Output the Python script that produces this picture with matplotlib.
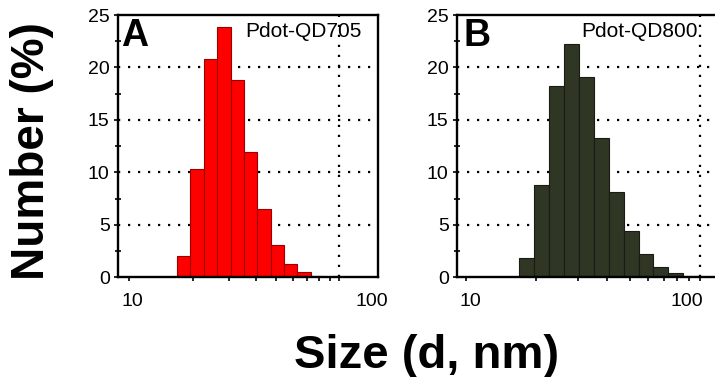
import numpy as np
import matplotlib
matplotlib.use("Agg")
import matplotlib.pyplot as plt
from matplotlib.ticker import FixedLocator, MultipleLocator, NullFormatter
from matplotlib.transforms import ScaledTranslation

plt.rcParams['font.family'] = ['Liberation Sans', 'DejaVu Sans']

# DLS size classes (nm) and number distributions (%)
sizes = [18.17, 21.04, 24.36, 28.21, 32.67, 37.84, 43.82, 50.75, 58.77, 68.06, 78.82, 91.28]
qd705 = [2.0, 10.3, 20.8, 23.9, 18.8, 11.9, 6.5, 3.1, 1.3, 0.55, 0.13, 0.0]
qd800 = [1.8, 8.8, 18.2, 22.2, 19.1, 13.3, 8.1, 4.4, 2.2, 0.95, 0.42, 0.15]
panel_letters = ['A', 'B']
sample_names = ['Pdot-QD705', 'Pdot-QD800']
bar_colors = ['#ff0000', '#2f3624']
edge_colors = ['#9a0000', '#181c12']
y_ticks = [0, 5, 10, 15, 20, 25]


def bin_edges(centers):
    c = np.log10(centers)
    half = np.diff(c).mean() / 2
    return 10 ** (c - half), 10 ** (c + half)


fig = plt.figure(figsize=(7.15, 3.77), dpi=100)

# axes placement (figure fraction) and x limits per panel
boxes = [[0.165, 0.2645, 0.3636, 0.6957], [0.6392, 0.2645, 0.3650, 0.6957]]
xlims = [(8.83, 152.9), (9.15, 119.4)]
label_shift = [(3, 33), (4, -13)]  # px offsets of the "10" / "100" labels
text_pos = [(0.012, 0.938), (0.023, 0.923)]

for i, vals in enumerate([qd705, qd800]):
    ax = fig.add_axes(boxes[i])
    lo, hi = bin_edges(sizes)
    ax.bar(lo, np.array(vals), width=hi - lo, align='edge',
           color=bar_colors[i], edgecolor=edge_colors[i], linewidth=0.8, zorder=2)
    ax.set_xscale('log')
    ax.set_xlim(*xlims[i])
    ax.set_ylim(0, 25)

    # dotted reference grid
    for yv in y_ticks[1:-1]:
        ax.axhline(yv, color='black', linestyle=(0, (1, 3.5)), linewidth=1.6, zorder=1)
    ax.axvline(100, color='black', linestyle=(0, (1, 3.5)), linewidth=1.6, zorder=1)

    for sp in ax.spines.values():
        sp.set_linewidth(1.7)
        sp.set_zorder(3)

    ax.xaxis.set_major_locator(FixedLocator([10, 100]))
    ax.xaxis.set_minor_locator(FixedLocator([20, 30, 40, 50, 60, 70, 80, 90]))
    ax.xaxis.set_minor_formatter(NullFormatter())
    ax.set_xticklabels(['10', '100'])
    ax.set_yticks(y_ticks)
    ax.yaxis.set_minor_locator(MultipleLocator(2.5))

    ax.tick_params(axis='x', which='both', direction='out', length=3, width=1.2,
                   labelsize=14, pad=8)
    ax.tick_params(axis='y', which='major', direction='out', length=3, width=1.2,
                   labelsize=14, pad=3)
    ax.tick_params(axis='y', which='minor', direction='inout', length=5, width=1.2)

    for lab, dx in zip(ax.get_xticklabels(), label_shift[i]):
        lab.set_transform(lab.get_transform() + ScaledTranslation(dx / 100, 0, fig.dpi_scale_trans))

    ax.text(text_pos[i][0], 0.99, panel_letters[i], transform=ax.transAxes,
            ha='left', va='top', fontsize=27, fontweight='bold')
    ax.text(text_pos[i][1], 0.975, sample_names[i], transform=ax.transAxes,
            ha='right', va='top', fontsize=15)

fig.text(32 / 715, 1 - 151 / 377, 'Number (%)', rotation=90, ha='center', va='center',
         fontsize=33, fontweight='bold')
fig.text(427 / 715, 1 - 368 / 377, 'Size (d, nm)', ha='center', va='baseline',
         fontsize=34, fontweight='bold')

fig.savefig('out.png', dpi=100)
